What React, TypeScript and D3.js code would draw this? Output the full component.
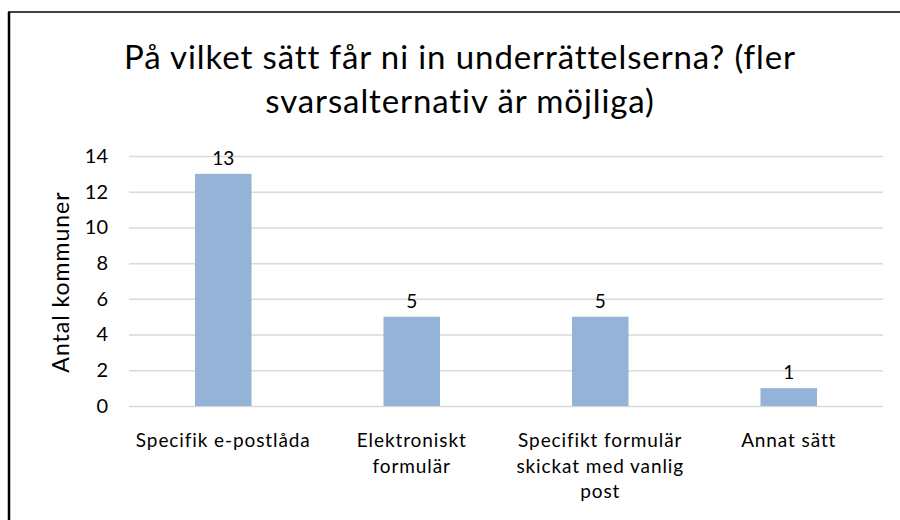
import * as d3 from "d3";
import { useEffect, useRef } from "react";

const categories = [
  "Specifik e-postlåda",
  "Elektroniskt\nformulär",
  "Specifikt formulär\nskickat med vanlig\npost",
  "Annat sätt",
];
const values = [13, 5, 5, 1];
const yTicks = [0, 2, 4, 6, 8, 10, 12, 14];
const titleLines = [
  "På vilket sätt får ni in underrättelserna? (fler",
  "svarsalternativ är möjliga)",
];
const yTitle = "Antal kommuner";

const FONT = "Lato, 'Open Sans', sans-serif";

function App() {
  const ref = useRef<SVGSVGElement | null>(null);

  useEffect(() => {
    const svg = d3.select(ref.current);
    svg.selectAll("*").remove();

    const width = 900;
    const height = 520;
    const plot = { left: 129, right: 883, top: 156, bottom: 406 };

    svg.append("rect").attr("width", width).attr("height", height).attr("fill", "#fff");

    // frame (only left and top visible)
    svg.append("line").attr("x1", 9).attr("x2", 9).attr("y1", 12).attr("y2", height)
      .attr("stroke", "#000").attr("stroke-width", 2.5);
    svg.append("line").attr("x1", 8).attr("x2", width).attr("y1", 12).attr("y2", 12)
      .attr("stroke", "#000").attr("stroke-width", 1.5);

    // title
    svg.append("text")
      .attr("x", 460).attr("y", 69)
      .attr("text-anchor", "middle")
      .attr("font-family", FONT)
      .attr("font-size", 33)
      .attr("letter-spacing", 0.9)
      .attr("fill", "#000")
      .selectAll("tspan")
      .data(titleLines)
      .enter()
      .append("tspan")
      .attr("x", 460)
      .attr("dy", (d, i) => (i === 0 ? 0 : 44))
      .text((d) => d);

    const xScale = d3
      .scaleBand()
      .domain(categories)
      .range([plot.left, plot.right])
      .paddingInner(0.7)
      .paddingOuter(0.35);

    const yScale = d3.scaleLinear().domain([0, 14]).range([plot.bottom, plot.top]);

    // gridlines
    const yAxis = svg
      .append("g")
      .attr("transform", `translate(${plot.left},0)`)
      .call(
        d3.axisLeft(yScale)
          .tickValues(yTicks)
          .tickSize(-(plot.right - plot.left))
          .tickPadding(21)
          .tickFormat(d3.format("d"))
      );
    yAxis.select(".domain").remove();
    yAxis.selectAll(".tick line").attr("stroke", "#d9d9d9").attr("stroke-width", 1.5);
    yAxis.selectAll(".tick text")
      .attr("font-family", FONT)
      .attr("font-size", 20)
      .attr("fill", "#000");

    // bars
    svg
      .selectAll("rect.bar")
      .data(values)
      .enter()
      .append("rect")
      .attr("class", "bar")
      .attr("x", (d, i) => xScale(categories[i]) as number)
      .attr("width", xScale.bandwidth())
      .attr("y", (d) => yScale(d))
      .attr("height", (d) => yScale(0) - yScale(d))
      .attr("fill", "#95b3d7");

    // value labels
    svg
      .selectAll("text.val")
      .data(values)
      .enter()
      .append("text")
      .attr("class", "val")
      .attr("x", (d, i) => (xScale(categories[i]) as number) + xScale.bandwidth() / 2)
      .attr("y", (d) => yScale(d) - 9)
      .attr("text-anchor", "middle")
      .attr("font-family", FONT)
      .attr("font-size", 19)
      .attr("fill", "#000")
      .text((d) => d);

    // category labels
    const catG = svg
      .selectAll("text.cat")
      .data(categories)
      .enter()
      .append("text")
      .attr("class", "cat")
      .attr("text-anchor", "middle")
      .attr("font-family", FONT)
      .attr("font-size", 19)
      .attr("letter-spacing", 0.9)
      .attr("fill", "#000")
      .attr("y", plot.bottom + 41);
    catG
      .selectAll("tspan")
      .data((d) => d.split("\n").map((t) => ({ t, c: d })))
      .enter()
      .append("tspan")
      .attr("x", (d) => (xScale(d.c) as number) + xScale.bandwidth() / 2)
      .attr("dy", (d, i) => (i === 0 ? 0 : 25.5))
      .text((d) => d.t);

    // y axis title
    svg
      .append("text")
      .attr("transform", `translate(69,${(plot.top + plot.bottom) / 2 + 1}) rotate(-90)`)
      .attr("text-anchor", "middle")
      .attr("font-family", FONT)
      .attr("font-size", 23)
      .attr("letter-spacing", 1)
      .attr("fill", "#000")
      .text(yTitle);
  }, []);

  return (
    <div>
      <svg
        ref={ref}
        width={900}
        height={520}
        style={{ position: "absolute", left: 0, top: 0 }}
      />
    </div>
  );
}

export default App;
